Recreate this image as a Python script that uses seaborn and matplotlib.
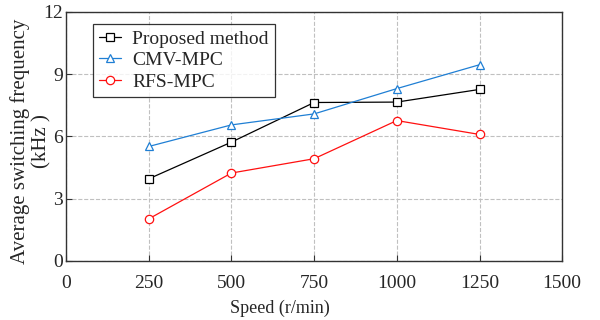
import pandas as pd
import matplotlib
matplotlib.use('Agg')
import matplotlib.pyplot as plt
import seaborn as sns

# Data
speed = [250, 500, 750, 1000, 1250]
proposed = [3.95, 5.72, 7.63, 7.65, 8.26]
cmv_mpc = [5.51, 6.55, 7.08, 8.30, 9.45]
rfs_mpc = [2.02, 4.23, 4.92, 6.76, 6.09]
series_names = ['Proposed method', 'CMV-MPC', 'RFS-MPC']

df = pd.DataFrame({
    'speed': speed * 3,
    'freq': proposed + cmv_mpc + rfs_mpc,
    'method': [n for n in series_names for _ in speed],
})

sns.set_theme(style='white')
plt.rcParams['font.family'] = ['Liberation Serif', 'DejaVu Serif']

fig, ax = plt.subplots(figsize=(6, 3.2), dpi=100)
palette = {'Proposed method': 'black', 'CMV-MPC': '#1f7fd4', 'RFS-MPC': '#ff1010'}
markers = {'Proposed method': 's', 'CMV-MPC': '^', 'RFS-MPC': 'o'}

sns.lineplot(data=df, x='speed', y='freq', hue='method', style='method',
             palette=palette, markers=markers, dashes=False, ax=ax,
             linewidth=0.9, markersize=6, markerfacecolor='white',
             markeredgewidth=0.9)
for line in ax.lines:
    line.set_markeredgecolor(line.get_color())
    line.set_markerfacecolor('white')

ax.set_xlim(0, 1500)
ax.set_ylim(0, 12)
ax.set_xticks([0, 250, 500, 750, 1000, 1250, 1500])
ax.set_yticks([0, 3, 6, 9, 12])
ax.grid(True, linestyle='--', color='#c0c0c0', linewidth=0.8)
ax.tick_params(labelsize=14, direction='in', length=4, width=0.8,
               color='#333333', bottom=True, left=True)
ax.tick_params(axis='x', pad=10)
ax.tick_params(axis='y', pad=2)
for s in ax.spines.values():
    s.set_color('#333333')
    s.set_linewidth(1.0)

ax.set_xlabel('Speed (r/min)', fontsize=13)
ax.xaxis.set_label_coords(0.431, -0.155)
ax.set_ylabel('Average switching frequency\n(kHz )', fontsize=15,
              linespacing=1.15)
ax.yaxis.set_label_coords(-0.03, 0.48)

handles, labels = ax.get_legend_handles_labels()
for h in handles:
    h.set_markerfacecolor('white')
    h.set_markeredgecolor(h.get_color())
leg = ax.legend(handles, labels, loc='upper left', bbox_to_anchor=(0.055, 0.95),
                fontsize=14, frameon=True, fancybox=False, edgecolor='black',
                handlelength=1.1, handletextpad=0.6, borderpad=0.3,
                labelspacing=0.2, borderaxespad=0)
leg.get_frame().set_linewidth(0.9)

plt.subplots_adjust(left=0.11, right=0.937, top=0.963, bottom=0.185)
plt.savefig('out.png', dpi=100)
plt.close()
